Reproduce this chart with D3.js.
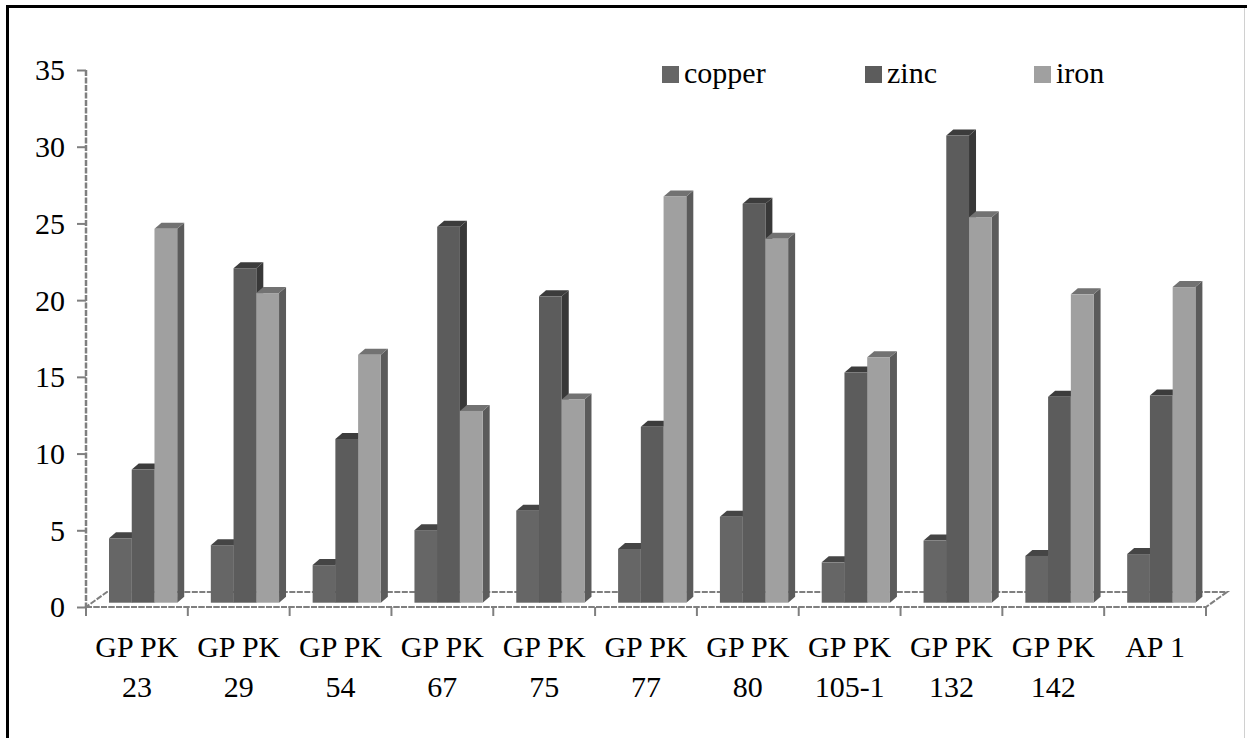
<!DOCTYPE html>
<html>
<head>
<meta charset="utf-8">
<script src="https://cdn.jsdelivr.net/npm/d3@7"></script>
<style>
  html, body { margin: 0; padding: 0; background: #fff; }
  svg { display: block; }
  text { font-family: "Liberation Serif", "Times New Roman", serif; fill: #000; }
</style>
</head>
<body>
<svg id="chart" width="1247" height="738"></svg>
<script>
// ---- data ----
const categories = ["GP PK\n23", "GP PK\n29", "GP PK\n54", "GP PK\n67", "GP PK\n75", "GP PK\n77",
                    "GP PK\n80", "GP PK\n105-1", "GP PK\n132", "GP PK\n142", "AP 1"];
const seriesNames = ["copper", "zinc", "iron"];
const copper = [4.2, 3.75, 2.45, 4.73, 6.0, 3.5, 5.6, 2.63, 4.05, 3.05, 3.17];
const zinc   = [8.68, 21.8, 10.67, 24.5, 19.97, 11.46, 26.0, 15.0, 30.45, 13.42, 13.5];
const iron   = [24.37, 20.18, 16.16, 12.5, 13.25, 26.48, 23.72, 16.0, 25.13, 20.1, 20.57];
const yTicks = [0, 5, 10, 15, 20, 25, 30, 35];

(function () {
const seriesValues = { copper, zinc, iron };
const palette = {
  copper: { front: "#666666", top: "#454545", side: "#4a4a4a" },
  zinc:   { front: "#5c5c5c", top: "#3c3c3c", side: "#383838" },
  iron:   { front: "#a0a0a0", top: "#727272", side: "#5b5b5b" }
};

const svg = d3.select("#chart");

// outer frame
svg.append("line").attr("x1", 7.5).attr("y1", 5).attr("x2", 7.5).attr("y2", 738)
  .attr("stroke", "#000").attr("stroke-width", 3);
svg.append("line").attr("x1", 6).attr("y1", 6.5).attr("x2", 1247).attr("y2", 6.5)
  .attr("stroke", "#000").attr("stroke-width", 3);
svg.append("line").attr("x1", 1244.5).attr("y1", 8).attr("x2", 1244.5).attr("y2", 738)
  .attr("stroke", "#d0d0d0").attr("stroke-width", 1);

// ---- scales ----
const pLeft = 86, pRight = 1206, pTop = 70, pBottom = 607;
const floorDX = 21, floorDY = -15;   // floor depth
const faceDX = 6.2, faceDY = -4.3;   // bar front plane offset
const depthDX = 7, depthDY = -6;     // bar depth

const y = d3.scaleLinear().domain([0, 35]).range([pBottom, pTop]);
const xCat = d3.scaleBand().domain(categories).range([pLeft, pRight]).padding(0);
const x0 = d3.scaleBand().domain(categories).range([pLeft, pRight])
  .paddingInner(0.33).paddingOuter(0.165);
const x1 = d3.scaleBand().domain(seriesNames).range([0, x0.bandwidth()]).padding(0);

const axisColor = "#7f7f7f";

// floor
const floor = d3.path();
floor.moveTo(pLeft, pBottom);
floor.lineTo(pRight, pBottom);
floor.lineTo(pRight + floorDX, pBottom + floorDY);
floor.lineTo(pLeft + floorDX, pBottom + floorDY);
floor.closePath();
svg.append("path").attr("d", floor.toString()).attr("fill", "#fff")
  .attr("stroke", axisColor).attr("stroke-width", 2).attr("stroke-dasharray", "6,1.5");

// y axis
const yAxis = d3.axisLeft(y).tickValues(yTicks).tickSize(9).tickPadding(12).tickFormat(d3.format("d"));
const gy = svg.append("g").attr("transform", `translate(${pLeft},0)`).call(yAxis);
gy.select(".domain").attr("stroke", axisColor).attr("stroke-width", 2.5)
  .attr("stroke-dasharray", "6,1.5").attr("d", `M0,${pTop}V${pBottom}`);
gy.selectAll(".tick line").attr("stroke", axisColor).attr("stroke-width", 2);
gy.selectAll(".tick text").attr("font-size", 30).attr("font-family", "Liberation Serif")
  .attr("fill", "#000").attr("dy", "0.33em");

// x axis (ticks at category boundaries)
const boundaries = categories.map(c => xCat(c)).concat([pRight]);
svg.append("g").selectAll("line").data(boundaries).join("line")
  .attr("x1", d => d).attr("x2", d => d).attr("y1", pBottom).attr("y2", pBottom + 9)
  .attr("stroke", axisColor).attr("stroke-width", 2);
svg.append("line").attr("x1", pLeft).attr("x2", pRight).attr("y1", pBottom).attr("y2", pBottom)
  .attr("stroke", axisColor).attr("stroke-width", 2).attr("stroke-dasharray", "6,1.5");

// category labels
const lab = svg.append("g").selectAll("text").data(categories).join("text")
  .attr("x", d => xCat(d) + xCat.bandwidth() / 2)
  .attr("y", 657)
  .attr("text-anchor", "middle")
  .attr("font-size", 30);
lab.each(function(d) {
  const t = d3.select(this);
  d.split("\n").forEach((line, i) => {
    t.append("tspan").attr("x", xCat(d) + xCat.bandwidth() / 2)
      .attr("dy", i === 0 ? 0 : 39.5).text(line);
  });
});

// bars
const base = y(0) + faceDY;
const bars = svg.append("g");
categories.forEach((c, ci) => {
  seriesNames.forEach(s => {
    const v = seriesValues[s][ci];
    const xl = x0(c) + x1(s) + faceDX;
    const w = x1.bandwidth();
    const yt = y(v) + faceDY;
    const col = palette[s];
    const g = bars.append("g");
    g.append("path")
      .attr("d", `M${xl + w},${base}L${xl + w + depthDX},${base + depthDY}L${xl + w + depthDX},${yt + depthDY}L${xl + w},${yt}Z`)
      .attr("fill", col.side);
    g.append("path")
      .attr("d", `M${xl},${yt}L${xl + depthDX},${yt + depthDY}L${xl + w + depthDX},${yt + depthDY}L${xl + w},${yt}Z`)
      .attr("fill", col.top);
    g.append("rect").attr("x", xl).attr("y", yt).attr("width", w).attr("height", base - yt)
      .attr("fill", col.front);
  });
});

// legend
const legendX = { copper: 662, zinc: 865, iron: 1034 };
const leg = svg.append("g");
seriesNames.forEach(s => {
  leg.append("rect").attr("x", legendX[s]).attr("y", 66).attr("width", 17).attr("height", 17)
    .attr("fill", palette[s].front);
  leg.append("text").attr("x", legendX[s] + 22).attr("y", 83).attr("font-size", 30).text(s);
});
})();
</script>
</body>
</html>
